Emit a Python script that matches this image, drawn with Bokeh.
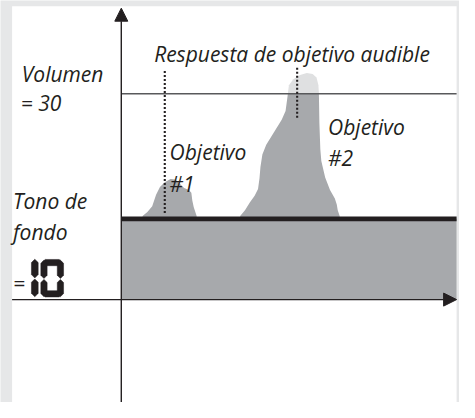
from bokeh.plotting import figure
from bokeh.models import Range1d, Arrow, NormalHead
from bokeh.core.properties import value
from bokeh.embed import file_html
from bokeh.resources import INLINE

# ---- data (chart units: x = time, y = signal level) ----
tone_level = 84          # "Tono de fondo" threshold level
volume_level = 214       # "Volumen = 30" level
x_end = 347

peak1_x = [22, 27, 32, 36, 40, 45, 51, 56, 60, 65, 70, 72.5, 73.5, 75, 78]
peak1_y = [87, 91, 97, 109, 117, 122, 125.5, 125, 121, 116, 114, 111, 103, 96, 87]

peak2_x = [123, 128, 133, 138, 141.5, 143, 144, 146, 150, 158, 166, 170, 172, 173.5, 178,
           185, 192, 198, 202, 204, 204.5, 205, 206, 207, 211, 216, 221, 223, 224, 226]
peak2_y = [87, 93, 101, 108, 115, 126, 138, 151, 161, 174, 187, 196, 211, 223, 229,
           233.5, 235.5, 234.5, 231, 223, 214, 184, 156, 144, 127, 114, 105, 99, 93, 87]

marker_x = [45, 182]
marker_top = [239, 241]
marker_bottom = [90, 189]

label_text = ["Respuesta de objetivo audible", "Volumen", "= 30", "Tono de", "fondo", "=",
              "Objetivo", "#1", "Objetivo", "#2"]
label_x = [34, -103, -104, -112, -112, -112, 50, 50, 214, 214]
label_y = [255, 235, 204, 103, 70.5, 17, 153, 120, 179, 147]

INK = "#231f20"
DARK_GRAY = "#a7a9ac"
LIGHT_GRAY = "#dfe0e1"
BG = "#e6e7e8"


def clip_half(xs, ys, level, keep_below):
    ox, oy = [], []
    n = len(xs)

    def inside(y):
        return y <= level if keep_below else y >= level

    for i in range(n):
        x1, y1 = xs[i - 1], ys[i - 1]
        x2, y2 = xs[i], ys[i]
        in1, in2 = inside(y1), inside(y2)
        if in2:
            if not in1:
                t = (level - y1) / (y2 - y1)
                ox.append(x1 + t * (x2 - x1)); oy.append(level)
            ox.append(x2); oy.append(y2)
        elif in1:
            t = (level - y1) / (y2 - y1)
            ox.append(x1 + t * (x2 - x1)); oy.append(level)
    return ox, oy


p = figure(width=459, height=402, x_range=Range1d(-125, 350), y_range=Range1d(-107, 311),
           output_backend="svg", toolbar_location=None, min_border=0,
           x_axis_type=None, y_axis_type=None)
p.outline_line_color = None
p.background_fill_color = BG
p.border_fill_color = BG
for g in p.grid:
    g.visible = False

# white panel
p.quad(left=[-113], right=[347], bottom=[-200], top=[305], fill_color="white", line_color=None)

# background tone region
p.quad(left=[0], right=[x_end], bottom=[0], top=[tone_level], fill_color=DARK_GRAY, line_color=None)

# peaks
for px, py in ((peak1_x, peak1_y), (peak2_x, peak2_y)):
    xs = list(px) + [px[-1], px[0]]
    ys = list(py) + [tone_level, tone_level]
    bx, by = clip_half(xs, ys, volume_level, True)
    p.patch(bx, by, fill_color=DARK_GRAY, line_color=None)
    if max(ys) > volume_level:
        tx, ty = clip_half(xs, ys, volume_level, False)
        p.patch(tx, ty, fill_color=LIGHT_GRAY, line_color=None)

# volume line and tone line
p.segment(x0=[0], y0=[volume_level], x1=[x_end], y1=[volume_level], line_color="#58595b", line_width=1.4)
p.segment(x0=[0], y0=[tone_level], x1=[x_end], y1=[tone_level], line_color=INK, line_width=4.8)

# dotted markers
p.segment(x0=marker_x, y0=marker_bottom, x1=marker_x, y1=marker_top,
          line_color=INK, line_width=2.1, line_dash="2 2")

# axes with arrows
p.add_layout(Arrow(end=NormalHead(size=13, fill_color=INK, line_color=INK, line_width=1),
                   x_start=-113, y_start=0, x_end=347, y_end=0, line_color=INK, line_width=1.4))
p.add_layout(Arrow(end=NormalHead(size=13, fill_color=INK, line_color=INK, line_width=1),
                   x_start=0, y_start=-120, x_end=0, y_end=303, line_color=INK, line_width=1.4))

# labels
p.text(x=label_x, y=label_y, text=label_text, text_font=value("Open Sans"),
       text_font_style="italic", text_font_size="21px", text_color=INK,
       text_baseline="alphabetic", text_align="left")


# seven-segment "10" display
def hseg(x0, x1, yc, t):
    xs = [x0, x0 + t / 2, x1 - t / 2, x1, x1 - t / 2, x0 + t / 2]
    ys = [yc, yc + t / 2, yc + t / 2, yc, yc - t / 2, yc - t / 2]
    return xs, ys


def vseg(xc, y0, y1, t):
    xs = [xc, xc + t / 2, xc + t / 2, xc, xc - t / 2, xc - t / 2]
    ys = [y0, y0 + t / 2, y1 - t / 2, y1, y1 - t / 2, y0 + t / 2]
    return xs, ys


def page_to_chart(xs, ys):
    return [x - 125 for x in xs], [311 - y for y in ys]


segs_page = [
    vseg(35.5, 269, 288.5, 7), vseg(35.5, 289.5, 308, 7),
    hseg(43, 64, 272.5, 6.5),
    vseg(45, 270, 289, 6.5), vseg(62, 270, 289, 6.5),
    vseg(45, 290, 308, 6.5), vseg(62, 290, 308, 6.5),
    hseg(43, 64, 305, 6.5),
]
seg_xs, seg_ys = [], []
for sx, sy in segs_page:
    cx, cy = page_to_chart(sx, sy)
    seg_xs.append(cx); seg_ys.append(cy)
p.patches(seg_xs, seg_ys, fill_color=INK, line_color=INK, line_width=0.5)

open("out.html", "w").write(file_html(p, INLINE))
